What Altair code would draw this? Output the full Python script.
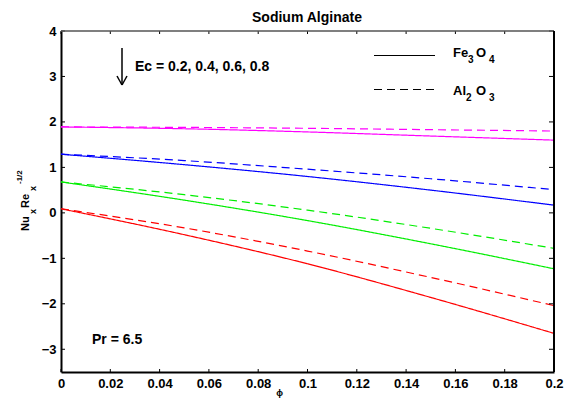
import altair as alt
import pandas as pd

# Local Nusselt number vs nanoparticle volume fraction phi (Sodium Alginate, Pr = 6.5)
phi = [0.0, 0.05, 0.10, 0.15, 0.20]
ec_levels = ["0.2", "0.4", "0.6", "0.8"]

fe3o4 = {
    "0.2": [1.89, 1.85, 1.78, 1.69, 1.60],
    "0.4": [1.29, 1.06, 0.80, 0.50, 0.17],
    "0.6": [0.68, 0.28, -0.17, -0.68, -1.23],
    "0.8": [0.09, -0.48, -1.12, -1.86, -2.65],
}
al2o3 = {
    "0.2": [1.89, 1.88, 1.86, 1.83, 1.80],
    "0.4": [1.29, 1.15, 0.96, 0.75, 0.51],
    "0.6": [0.68, 0.40, 0.06, -0.34, -0.78],
    "0.8": [0.09, -0.33, -0.84, -1.42, -2.04],
}
colors = ["#ff00ff", "#0000ff", "#00ee00", "#ff0000"]

x_ticks = [0, 0.02, 0.04, 0.06, 0.08, 0.1, 0.12, 0.14, 0.16, 0.18, 0.2]
y_ticks = [-3, -2, -1, 0, 1, 2, 3, 4]

W, H = 493, 341
FONT = "Liberation Sans"

rows = []
for fluid, table in (("Fe3O4", fe3o4), ("Al2O3", al2o3)):
    for ec in ec_levels:
        for p, v in zip(phi, table[ec]):
            rows.append({"phi": p, "nu": v, "ec": ec, "fluid": fluid, "key": fluid + ec})
df = pd.DataFrame(rows)

xs = alt.Scale(domain=[0, 0.2], nice=False)
ys = alt.Scale(domain=[-3.5, 4], nice=False)

lines = alt.Chart(df).mark_line(strokeWidth=1.2, interpolate="monotone").encode(
    x=alt.X("phi:Q", scale=xs,
            axis=alt.Axis(values=x_ticks, format="~g", title=None, ticks=False, grid=False,
                          labelFlush=False, labelPadding=5, domainColor="black", domainWidth=2)),
    y=alt.Y("nu:Q", scale=ys,
            axis=alt.Axis(values=y_ticks, format="d", title=None, ticks=False, grid=False,
                          labelFlush=False, labelPadding=5, domainColor="black", domainWidth=2)),
    color=alt.Color("ec:N", scale=alt.Scale(domain=ec_levels, range=colors), legend=None),
    strokeDash=alt.StrokeDash("fluid:N", scale=alt.Scale(domain=["Fe3O4", "Al2O3"],
                                                          range=[[1, 0], [8, 5]]), legend=None),
    detail="key:N",
)

# inward tick marks on all four sides
xt = pd.DataFrame({"t": x_ticks})
yt = pd.DataFrame({"t": y_ticks})
tick_style = dict(color="black", strokeWidth=1)
xb = alt.Chart(xt).mark_rule(**tick_style).encode(x=alt.X("t:Q", scale=xs), y=alt.value(H), y2=alt.value(H - 3))
xtop = alt.Chart(xt).mark_rule(**tick_style).encode(x=alt.X("t:Q", scale=xs), y=alt.value(0), y2=alt.value(3))
yl = alt.Chart(yt).mark_rule(**tick_style).encode(y=alt.Y("t:Q", scale=ys), x=alt.value(0), x2=alt.value(4))
yr = alt.Chart(yt).mark_rule(**tick_style).encode(y=alt.Y("t:Q", scale=ys), x=alt.value(W), x2=alt.value(W - 5))

# box edges
top_edge = alt.Chart(pd.DataFrame({"a": [0]})).mark_rule(color="#555555", strokeWidth=1.5).encode(
    x=alt.value(0), x2=alt.value(W), y=alt.value(0))
right_edge = alt.Chart(pd.DataFrame({"a": [0]})).mark_rule(color="black", strokeWidth=2).encode(
    x=alt.value(W), y=alt.value(0), y2=alt.value(H))


def label(text, x, y, size=14, angle=0, align="left"):
    return alt.Chart(pd.DataFrame({"s": [text]})).mark_text(
        font=FONT, fontWeight="bold", fontSize=size, color="black", align=align,
        baseline="alphabetic", angle=angle,
    ).encode(text="s:N", x=alt.value(x), y=alt.value(y))


def seg(x1, y1, x2, y2, dash=None, width=1.2):
    kw = dict(color="black", strokeWidth=width)
    if dash:
        kw["strokeDash"] = dash
    return alt.Chart(pd.DataFrame({"a": [0]})).mark_rule(**kw).encode(
        x=alt.value(x1), y=alt.value(y1), x2=alt.value(x2), y2=alt.value(y2))


annotations = [
    label("Sodium Alginate", 246, -9, 14, align="center"),
    # Ec arrow
    seg(61, 17, 61, 54, width=1.5),
    seg(56, 45, 61, 54, width=1.5),
    seg(66, 45, 61, 54, width=1.5),
    label("Ec = 0.2, 0.4, 0.6, 0.8", 74, 40, 14),
    label("Pr = 6.5", 31, 313, 14),
    # legend
    seg(313, 24.5, 374, 24.5),
    seg(313, 58.5, 374, 58.5, dash=[8, 5]),
    label("Fe", 392, 26, 13), label("3", 407, 32, 10),
    label("O", 415, 26, 13), label("4", 428, 32, 10),
    label("Al", 392, 64, 13), label("2", 405, 70, 10),
    label("O", 415, 64, 13), label("3", 428, 70, 10),
    # y-axis title: Nu_x Re_x^-1/2
    label("Nu", -32.5, 200, 11, angle=270), label("x", -25, 183, 9, angle=270),
    label("Re", -32.5, 177, 11, angle=270), label("x", -25, 160, 9, angle=270),
    label("-1/2", -39, 153, 8, angle=270),
    # x-axis title
    label("\u03d5", 218.5, 365, 9, align="center"),
]

chart = alt.layer(lines, xb, xtop, yl, yr, top_edge, right_edge, *annotations).properties(
    width=W, height=H,
    padding={"left": 61, "top": 31, "right": 16, "bottom": 26},
    autosize=alt.AutoSizeParams(type="none"),
    background="white",
).configure_view(stroke=None).configure_axis(
    labelFont=FONT, labelFontSize=13, labelFontWeight="bold", labelColor="black",
)

chart.save("out.html", embed_options={"renderer": "svg", "actions": False})
